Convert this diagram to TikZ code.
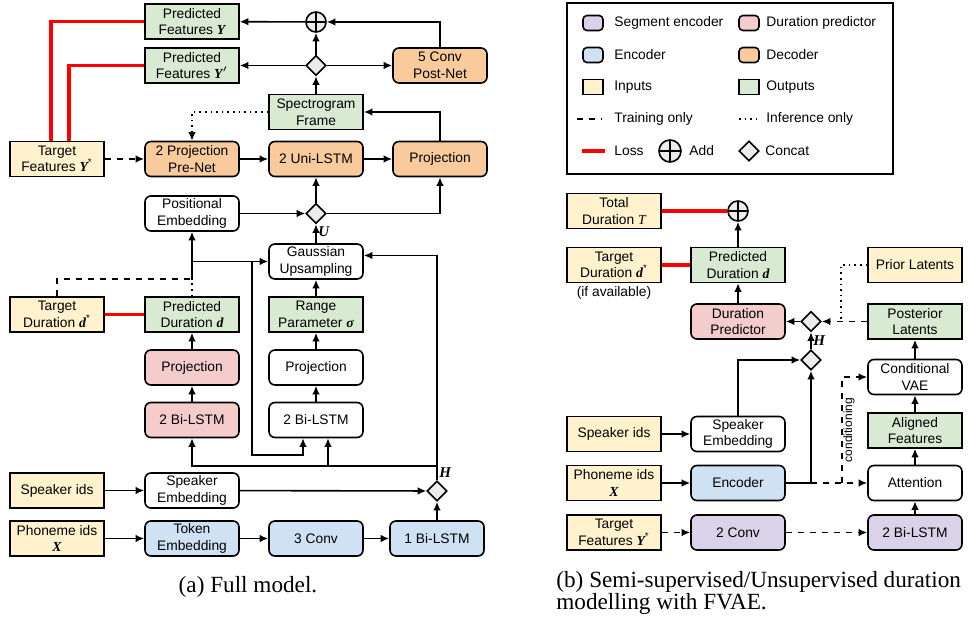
\documentclass[tikz,border=0pt]{standalone}
\usepackage{fontspec}
\setmainfont{Liberation Sans}
\newfontfamily\serifcap{Liberation Serif}
\usetikzlibrary{arrows.meta, shapes.geometric, calc}
\definecolor{inyellow}{HTML}{FFF2CC}
\definecolor{outgreen}{HTML}{D9EAD3}
\definecolor{decorange}{HTML}{F9CB9C}
\definecolor{encblue}{HTML}{CFE2F3}
\definecolor{durpink}{HTML}{F4CCCC}
\definecolor{segpurple}{HTML}{D9D2E9}
\definecolor{lossred}{HTML}{FF0000}
\newcommand{\mvar}[1]{{\serifcap\bfseries\itshape #1}}
\newcommand{\ivar}[1]{{\serifcap\itshape #1}}

\begin{document}
\begin{tikzpicture}[x=0.5pt, y=-0.5pt,
  every node/.style={font=\fontsize{6.9}{8.3}\selectfont},
  box/.style={draw, line width=0.8pt, minimum width=47pt, minimum height=17.5pt, inner sep=1pt, align=center},
  rbox/.style={box, rounded corners=3pt},
  inbox/.style={box, fill=inyellow},
  outbox/.style={box, fill=outgreen},
  decbox/.style={rbox, fill=decorange},
  encbox/.style={rbox, fill=encblue},
  durbox/.style={rbox, fill=durpink},
  segbox/.style={rbox, fill=segpurple},
  concat/.style={diamond, draw, line width=0.8pt, fill=gray!15, minimum width=10pt, minimum height=10pt, inner sep=0pt},
  addop/.style={circle, draw, line width=0.8pt, fill=gray!15, minimum size=10pt, inner sep=0pt,
    path picture={\draw[line width=0.8pt] (path picture bounding box.north) -- (path picture bounding box.south)
      (path picture bounding box.west) -- (path picture bounding box.east);}},
  arr/.style={-{Latex[length=4.3pt, width=3.8pt]}, line width=0.8pt},
  wire/.style={line width=0.8pt},
  loss/.style={lossred, line width=1.6pt},
  swatch/.style={draw, line width=0.8pt, minimum width=10pt, minimum height=7.5pt, inner sep=0pt},
  lbl/.style={anchor=west, inner sep=0pt},
  caption/.style={font=\serifcap\fontsize{11.6}{11.2}\selectfont, inner sep=0pt}
]
  \useasboundingbox (0,0) rectangle (969,619);

  \node[outbox] (predY) at (192,21.5) {Predicted\\Features \mvar{Y}};
  \node[addop] (addA) at (316,22) {};
  \node[outbox] (predYp) at (192,65.5) {Predicted\\Features \mvar{Y}$'$};
  \node[concat] (catA) at (316,65.5) {};
  \node[decbox] (post) at (440,65.5) {5 Conv\\Post-Net};
  \node[outbox] (spec) at (316,112) {Spectrogram\\Frame};
  \node[inbox] (tgtY) at (57,159) {Target\\Features \mvar{Y}\textsuperscript{*}};
  \node[decbox] (prenet) at (192,159) {2 Projection\\Pre-Net};
  \node[decbox] (unilstm) at (316,159) {2 Uni-LSTM};
  \node[decbox] (projD) at (440,159) {Projection};
  \node[rbox] (posemb) at (192,213.5) {Positional\\Embedding};
  \node[concat] (catU) at (316,213.5) {};
  \node[rbox] (gauss) at (316,261.5) {Gaussian\\Upsampling};
  \node[inbox] (tgtD) at (57,314.5) {Target\\Duration \mvar{d}\textsuperscript{*}};
  \node[outbox] (predD) at (192,314.5) {Predicted\\Duration \mvar{d}};
  \node[outbox] (range) at (316,314.5) {Range\\Parameter \mvar{σ}};
  \node[durbox] (projP) at (192,367.5) {Projection};
  \node[rbox] (projW) at (316,367.5) {Projection};
  \node[durbox] (lstmP) at (192,420) {2 Bi-LSTM};
  \node[rbox] (lstmW) at (316,420) {2 Bi-LSTM};
  \node[concat] (catH) at (437,491) {};
  \node[inbox] (spkids) at (57,490.5) {Speaker ids};
  \node[rbox] (spkemb) at (192,490.5) {Speaker\\Embedding};
  \node[inbox] (phon) at (57,538.5) {Phoneme ids\\\mvar{X}};
  \node[encbox] (tok) at (192,538.5) {Token\\Embedding};
  \node[encbox] (conv3) at (316,538.5) {3 Conv};
  \node[encbox] (bilstm1) at (437,538.5) {1 Bi-LSTM};

  \node[anchor=north west, inner sep=1pt, font=\serifcap\bfseries\itshape\fontsize{7.5}{8}\selectfont] at (catU.south) {U};
  \node[anchor=south west, inner sep=1pt, font=\serifcap\bfseries\itshape\fontsize{7.5}{8}\selectfont] at (catH.north) {H};

  \coordinate (jD) at (192,279);
  \coordinate (hJ) at (437,466);
  \coordinate (hB) at (328,466);
  \coordinate (rJ) at (252,261.5);
  \coordinate (rB) at (252,455);
  \coordinate (rC) at (303,455);

  \draw[arr] (addA) -- (predY);
  \draw[arr] (catA) -- (predYp);
  \draw[arr] (catA) -- (post);
  \draw[arr] (catA) -- (addA);
  \draw[arr] (post.north) |- (addA.east);
  \draw[arr] (spec) -- (catA);
  \draw[arr] (projD.north) |- (spec.east);
  \draw[arr, dotted] (spec.west) -| (prenet.north);
  \draw[arr, dashed] (tgtY) -- (prenet);
  \draw[arr] (prenet) -- (unilstm);
  \draw[arr] (unilstm) -- (projD);
  \draw[arr] (catU) -- (unilstm);
  \draw[arr] (catU.east) -| (projD.south);
  \draw[arr] (posemb) -- (catU);
  \draw[arr] (gauss) -- (catU);
  \draw[loss] (predY.west) -| ([xshift=-3pt]tgtY.north);
  \draw[loss] (predYp.west) -| ([xshift=6pt]tgtY.north);
  \draw[loss] (tgtD) -- (predD);
  \draw[wire, dotted] (predD.north) -- (jD);
  \draw[wire, dashed] (tgtD.north) |- (jD);
  \draw[arr] (jD) -- (posemb.south);
  \draw[arr] (rJ -| posemb.south) -- (gauss.west);
  \draw[arr] (rJ) -- (rB) -- (rC) -- (rC |- lstmW.south);
  \draw[arr] (catH.north) |- ([yshift=3pt]gauss.east);
  \draw[arr] (hJ) -| (lstmP.south);
  \draw[arr] (hB) -- (hB |- lstmW.south);
  \draw[arr] (lstmP) -- (projP);
  \draw[arr] (projP) -- (predD);
  \draw[arr] (lstmW) -- (projW);
  \draw[arr] (projW) -- (range);
  \draw[arr] (range) -- (gauss);
  \draw[arr] (spkids) -- (spkemb);
  \draw[arr] (spkemb) -- (catH);
  \draw[arr] (bilstm1) -- (catH);
  \draw[arr] (phon) -- (tok);
  \draw[arr] (tok) -- (conv3);
  \draw[arr] (conv3) -- (bilstm1);

  \node[caption] (capA) at (248,587) {(a) Full model.};

  \draw[line width=0.8pt] (567,3) rectangle (893,174);
  \node[swatch, fill=segpurple, rounded corners=2pt] (lgSeg) at (593,23) {};
  \node[lbl] (lgSegT) at (614,23) {Segment encoder};
  \node[swatch, fill=durpink, rounded corners=2pt] (lgDur) at (749,23) {};
  \node[lbl] (lgDurT) at (766,23) {Duration predictor};
  \node[swatch, fill=encblue, rounded corners=2pt] (lgEnc) at (593,55) {};
  \node[lbl] (lgEncT) at (614,55) {Encoder};
  \node[swatch, fill=decorange, rounded corners=2pt] (lgDec) at (749,55) {};
  \node[lbl] (lgDecT) at (766,55) {Decoder};
  \node[swatch, fill=inyellow] (lgIn) at (593,87) {};
  \node[lbl] (lgInT) at (614,87) {Inputs};
  \node[swatch, fill=outgreen] (lgOut) at (749,87) {};
  \node[lbl] (lgOutT) at (766,87) {Outputs};
  \coordinate (lgTa) at (577,119);
  \coordinate (lgTb) at (602,119);
  \draw[wire, dashed] (lgTa) -- (lgTb);
  \node[lbl] (lgTrT) at (614,119) {Training only};
  \coordinate (lgIa) at (739,119);
  \coordinate (lgIb) at (760,119);
  \draw[wire, dotted] (lgIa) -- (lgIb);
  \node[lbl] (lgInfT) at (766,119) {Inference only};
  \coordinate (lgLa) at (582,151);
  \coordinate (lgLb) at (605,151);
  \draw[loss] (lgLa) -- (lgLb);
  \node[lbl] (lgLossT) at (614,151) {Loss};
  \node[addop, minimum size=11pt] (lgAdd) at (670,151) {};
  \node[lbl] (lgAddT) at (689,151) {Add};
  \node[concat] (lgCat) at (749,151) {};
  \node[lbl] (lgCatT) at (765,151) {Concat};

  \node[inbox] (totT) at (614,211) {Total\\Duration \ivar{T}};
  \node[addop] (addB) at (738,211) {};
  \node[inbox] (tgtDb) at (614,265) {Target\\Duration \mvar{d}\textsuperscript{*}};
  \node[inner sep=0pt] (ifav) at (614,293) {(if available)};
  \node[outbox] (predDb) at (738,265) {Predicted\\Duration \mvar{d}};
  \node[inbox] (prior) at (915,265) {Prior Latents};
  \node[durbox] (durpred) at (738,321.5) {Duration\\Predictor};
  \node[concat] (catB1) at (811,321.5) {};
  \node[outbox] (postlat) at (915,321.5) {Posterior\\Latents};
  \node[concat] (catB2) at (811,360) {};
  \node[rbox] (cvae) at (915,377) {Conditional\\VAE};
  \node[outbox] (aligned) at (915,430.5) {Aligned\\Features};
  \node[inbox] (spkidsB) at (614,434) {Speaker ids};
  \node[rbox] (spkembB) at (738,434) {Speaker\\Embedding};
  \node[inbox] (phonB) at (614,483) {Phoneme ids\\\mvar{X}};
  \node[encbox] (enc) at (738,483) {Encoder};
  \node[rbox] (attn) at (915,483) {Attention};
  \node[inbox] (tgtYb) at (614,532.5) {Target\\Features \mvar{Y}\textsuperscript{*}};
  \node[segbox] (conv2) at (738,532.5) {2 Conv};
  \node[segbox] (lstm2) at (915,532.5) {2 Bi-LSTM};

  \node[anchor=west, inner sep=1pt, font=\serifcap\bfseries\itshape\fontsize{7.5}{8}\selectfont] at ($(catB1.south)!0.5!(catB2.north)$) {H};

  \coordinate (eJ) at (811,483);
  \coordinate (cJ) at (842,483);
  \coordinate (pJ) at (841,321.5);

  \draw[loss] (totT) -- (addB);
  \draw[loss] (tgtDb) -- (predDb);
  \draw[arr] (predDb) -- (addB);
  \draw[arr] (durpred) -- (predDb);
  \draw[arr] (catB1) -- (durpred);
  \draw[arr, dashed] (postlat) -- (catB1);
  \draw[wire, dotted] (prior.west) -| (pJ);
  \draw[arr] (catB2) -- (catB1);
  \draw[arr] (spkembB.north) |- (catB2.west);
  \draw[arr] (enc.east) -| (catB2.south);
  \draw[arr, dashed] (eJ) -- (attn.west);
  \draw[arr, dashed] (cJ) |- (cvae.west);
  \node[rotate=90, inner sep=1pt, font=\fontsize{6}{7}\selectfont] (condT) at (849,430) {conditioning};
  \draw[arr] (lstm2) -- (attn);
  \draw[arr] (attn) -- (aligned);
  \draw[arr] (aligned) -- (cvae);
  \draw[arr] (cvae) -- (postlat);
  \draw[arr] (spkidsB) -- (spkembB);
  \draw[arr] (phonB) -- (enc);
  \draw[arr, dashed] (tgtYb) -- (conv2);
  \draw[arr, dashed] (conv2) -- (lstm2);

  \node[caption, anchor=west, align=left] (capB) at (556,593) {(b) Semi-supervised/Unsupervised duration\\modelling with FVAE.};
\end{tikzpicture}
\end{document}
